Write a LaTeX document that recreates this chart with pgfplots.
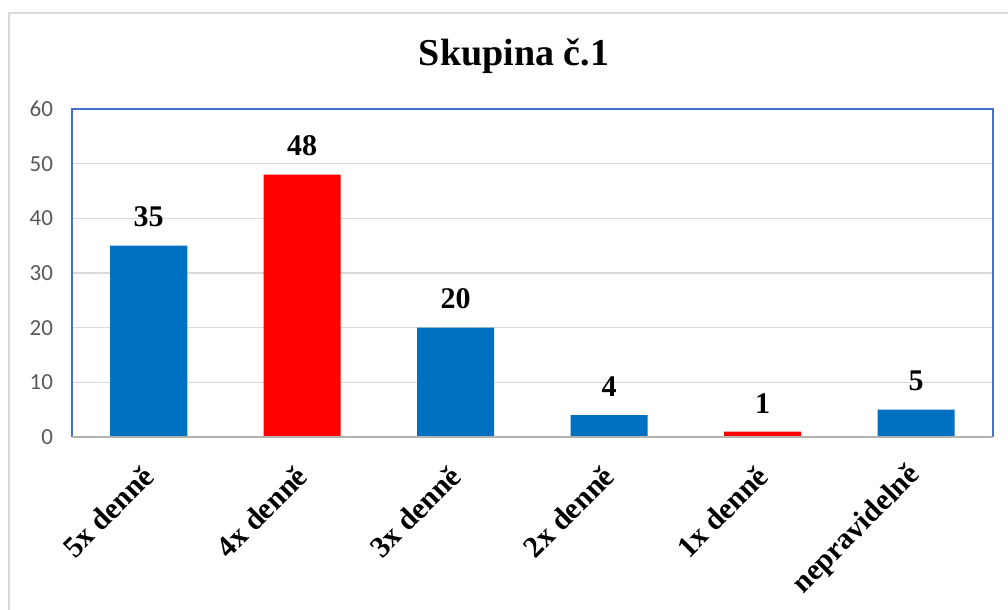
\documentclass[border=0pt]{standalone}
\usepackage{pgfplots}
\pgfplotsset{compat=1.18}
\usepackage{fontspec}
\setmainfont{Liberation Serif}
\newfontfamily\carlito{Carlito}
\definecolor{barblue}{HTML}{0070C0}
\definecolor{barred}{HTML}{FF0000}
\definecolor{frameblue}{HTML}{4472C4}
\definecolor{gridgray}{HTML}{D9D9D9}
\definecolor{tickgray}{HTML}{595959}
\begin{document}
\begin{tikzpicture}
\useasboundingbox (0,0) rectangle (504pt,305pt);
% outer chart border
\draw[gridgray, line width=1pt] (4.5pt,-5pt) -- (4.5pt,298.5pt) -- (510pt,298.5pt);
\node[font=\bfseries\fontsize{19}{19}\selectfont] at (257pt,277pt) {Skupina č.1};
\begin{axis}[
    at={(36pt,86.5pt)}, anchor=south west,
    scale only axis,
    width=460.5pt, height=164pt,
    ybar, bar shift=0pt, bar width=38.5pt,
    xmin=-0.5, xmax=5.5,
    ymin=0, ymax=60,
    ytick={0,10,...,60},
    xtick={0,...,5},
    xticklabels={5x denně,4x denně,3x denně,2x denně,1x denně,nepravidelně},
    major tick length=0pt,
    axis line style={draw=none},
    ymajorgrids, grid style={gridgray, line width=0.8pt},
    /pgf/number format/assume math mode=true,
    yticklabel style={font=\carlito\fontsize{11.5}{11.5}\selectfont, text=tickgray, xshift=-6pt},
    xticklabel style={font=\bfseries\fontsize{15}{15}\selectfont, rotate=45, anchor=east, inner sep=0pt, xshift=-12pt, yshift=-12pt},
    nodes near coords,
    every node near coord/.append style={font=\bfseries\fontsize{15}{15}\selectfont, anchor=south, inner sep=0pt, yshift=9pt, text=black},
    clip=false,
  ]
  \addplot[fill=barblue, draw=none] coordinates {(0,35) (2,20) (3,4) (5,5)};
  \addplot[fill=barred, draw=none] coordinates {(1,48) (4,1)};
  \draw[frameblue, line width=0.8pt] (rel axis cs:0,0) -- (rel axis cs:0,1) -- (rel axis cs:1,1) -- (rel axis cs:1,0);
  \draw[gray!60, line width=1pt] (rel axis cs:0,0) -- (rel axis cs:1,0);
\end{axis}
\end{tikzpicture}
\end{document}
